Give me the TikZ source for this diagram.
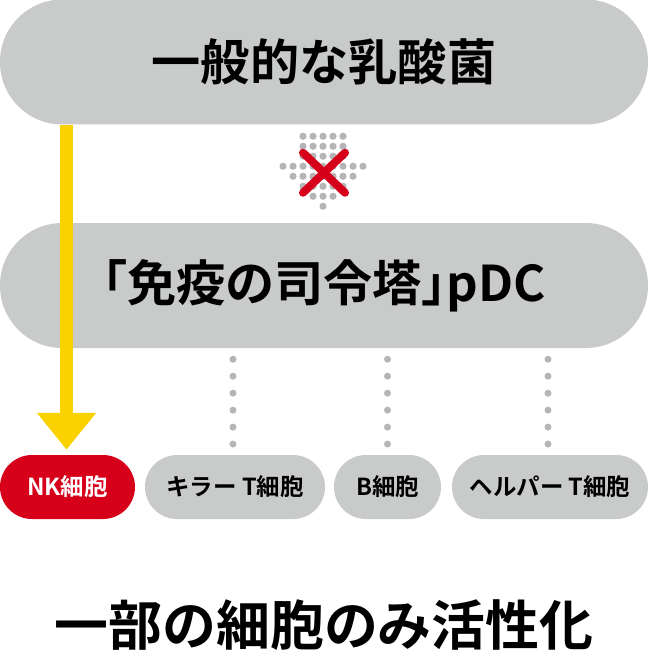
\documentclass[tikz,border=0pt]{standalone}
\usepackage{fontspec}
\setmainfont{Noto Sans CJK JP}[BoldFont={Noto Sans CJK JP Bold}]
\usepackage{tikz}
\usetikzlibrary{arrows.meta,positioning,calc}
\definecolor{pillg}{HTML}{C9CACA}
\definecolor{dotg}{HTML}{B5B5B6}
\definecolor{nkred}{HTML}{D7001A}
\definecolor{arrowy}{HTML}{FAD200}
\tikzset{
  pill/.style={rectangle, fill=pillg, inner sep=0pt, align=center, text=black},
  bigpill/.style={pill, minimum width=194.4mm, minimum height=37.5mm, rounded corners=18.7mm,
                  font=\fontsize{42pt}{42pt}\selectfont\bfseries},
  cellpill/.style={pill, minimum height=19.2mm, rounded corners=9.6mm,
                   font=\fontsize{20pt}{20pt}\selectfont\bfseries},
  dotline/.style={draw=dotg, line width=2.1mm, line cap=round, dash pattern=on 0pt off 5.09mm,
                  shorten <=3.3mm, shorten >=2.8mm},
  yarrow/.style={draw=arrowy, line width=3.9mm, -{Triangle[width=17.1mm, length=11.1mm]},
                 shorten >=1.5mm},
  nogo/.style={draw=nkred, line width=2.4mm, line cap=round},
}

\begin{document}
\begin{tikzpicture}[x=0.3mm, y=-0.3mm]
  \useasboundingbox (0,0) rectangle (648,652);
  \node[bigpill] (lab) at (324,62) {一般的な乳酸菌};
  \node[bigpill] (pdc) at (324,285.5) {\addfontfeatures{RawFeature=+palt}「免疫の司令塔」pDC};

  \node[cellpill, fill=nkred, text=white, minimum width=40.5mm] (nk) at (67.5,487) {NK細胞};
  \node[cellpill, minimum width=54mm] (killer) at (235,487) {キラー T細胞};
  \node[cellpill, minimum width=32.1mm] (bcell) at (387.5,487) {B細胞};
  \node[cellpill, minimum width=58.8mm] (helper) at (550,487) {ヘルパー T細胞};

  \node[font=\fontsize{46pt}{46pt}\selectfont\bfseries] (result) at (324,625) {一部の細胞のみ活性化};

  % blocked path between the two pills
  \coordinate (blk) at ($(lab.south)!0.5!(pdc.north)$);
  \foreach \j/\w in {0/2,1/2,2/2,3/4,4/3,5/2,6/1,7/0}
    \foreach \i in {-\w,...,\w}
      \fill[dotg] ($(blk)+(10*\i-1,10*\j-37.5)$) circle[radius=3.6];
  \draw[nogo] ($(blk)+(-21,-21)$) -- ($(blk)+(21,19)$);
  \draw[nogo] ($(blk)+(21,-21)$) -- ($(blk)+(-21,19)$);

  % weak links to the other cells
  \draw[dotline] (pdc.south -| 233,0) -- (killer.north -| 233,0);
  \draw[dotline] (pdc.south -| bcell.north) -- (bcell.north);
  \draw[dotline] (pdc.south -| 548,0) -- (helper.north -| 548,0);

  % direct activation of NK cells
  \draw[yarrow] (lab.south -| 66.5,0) -- (nk.north -| 66.5,0);
\end{tikzpicture}
\end{document}
